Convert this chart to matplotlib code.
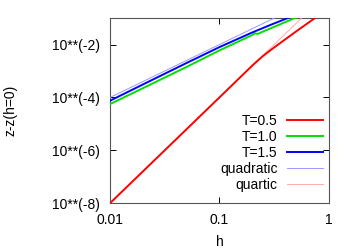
import matplotlib
matplotlib.use("Agg")
import matplotlib.pyplot as plt

plt.rcParams['font.family'] = ['Liberation Sans', 'DejaVu Sans']
plt.rcParams['font.size'] = 10

# values (log-log)
h_t05 = [0.01, 0.05, 0.1, 0.15, 0.2, 0.25, 0.3, 0.4, 0.5, 0.6, 0.75, 1.0]
z_t05 = [1e-8, 6.25e-6, 1e-4, 5.1e-4, 1.62e-3, 3.7e-3, 6.6e-3, 0.0158, 0.031, 0.053, 0.102, 0.24]

h_t10 = [0.01, 0.02, 0.05, 0.1, 0.2, 0.21, 0.225, 0.25, 0.35, 0.5, 0.7]
z_t10 = [5.6e-5, 2.24e-4, 1.42e-3, 6e-3, 0.023, 0.0265, 0.0253, 0.031, 0.056, 0.105, 0.186]

h_t15 = [0.01, 0.02, 0.05, 0.1, 0.2, 0.3, 0.42, 0.6]
z_t15 = [7.5e-5, 3.1e-4, 2.0e-3, 8e-3, 0.0288, 0.0576, 0.1, 0.18]

h_quad = [0.01, 1.0]
z_quad = [1e-4, 1.0]

h_quart = [0.01, 1.0]
z_quart = [1e-8, 1.0]

xticks = [0.01, 0.1, 1]
xticklabels = ["0.01", "0.1", "1"]
yticks = [1e-8, 1e-6, 1e-4, 1e-2]
yticklabels = ["10**(-8)", "10**(-6)", "10**(-4)", "10**(-2)"]

fig = plt.figure(figsize=(3.54, 2.48), dpi=100)
ax = fig.add_axes([0.311, 0.181, 0.618, 0.746])

ax.plot(h_t05, z_t05, color='#ff0000', lw=1.4, label='T=0.5', zorder=4)
ax.plot(h_t10, z_t10, color='#00e000', lw=1.4, label='T=1.0', zorder=4)
ax.plot(h_t15, z_t15, color='#0000ff', lw=1.4, label='T=1.5', zorder=4)
ax.plot(h_quad, z_quad, color='#9999ff', lw=0.7, label='quadratic', zorder=3)
ax.plot(h_quart, z_quart, color='#ffaaaa', lw=0.7, label='quartic', zorder=3)

ax.set_xscale('log')
ax.set_yscale('log')
ax.set_xlim(0.01, 1)
ax.set_ylim(1e-8, 1e-1)
ax.set_xticks(xticks)
ax.set_xticklabels(xticklabels)
ax.set_yticks(yticks)
ax.set_yticklabels(yticklabels)
ax.minorticks_off()
ax.tick_params(direction='in', length=4, width=0.7, top=True, right=True,
               colors='#000000', pad=7)
for s in ax.spines.values():
    s.set_color('#555555')
    s.set_linewidth(0.8)

ax.set_xlabel("h", labelpad=6)
ax.set_ylabel("z-z(h=0)")
ax.yaxis.set_label_coords(-0.425, 0.5)

leg = ax.legend(loc='lower right', bbox_to_anchor=(0.973, 0.06), frameon=False,
                markerfirst=False, handlelength=2.6, handletextpad=0.65,
                labelspacing=0.15, borderpad=0, borderaxespad=0)

fig.savefig("out.png", dpi=100)
